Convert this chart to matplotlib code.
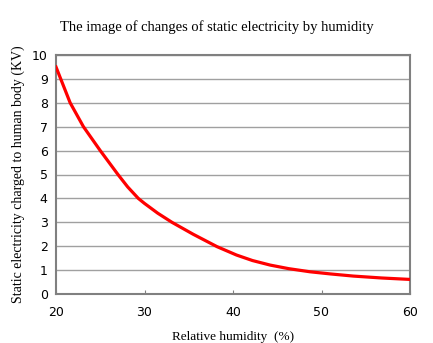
import matplotlib
matplotlib.use("Agg")
import matplotlib.pyplot as plt

# values
humidity = [20, 21.6, 23.1, 25.0, 27.0, 28.1, 29.3, 30.0, 31.5, 33.1, 35.5,
            38.2, 40.4, 42.2, 44.2, 46.3, 48.7, 51.0, 53.6, 56.8, 60]
voltage = [9.5, 8.0, 7.0, 6.0, 5.0, 4.48, 4.0, 3.79, 3.38, 3.0, 2.5,
           1.98, 1.63, 1.4, 1.21, 1.06, 0.93, 0.84, 0.75, 0.67, 0.61]
x_ticks = [20, 30, 40, 50, 60]
y_ticks = list(range(0, 11))

fig = plt.figure(figsize=(4.33, 3.43), dpi=100)
ax = fig.add_axes([56 / 433, 1 - 294 / 343, (410 - 56) / 433, (294 - 55) / 343])

ax.plot(humidity, voltage, color="#ff0000", lw=2.3, solid_joinstyle="round", zorder=3)

ax.set_xlim(20, 60)
ax.set_ylim(0, 10)
ax.set_xticks(x_ticks)
ax.set_yticks(y_ticks)
ax.yaxis.grid(True, color="#a0a0a0", lw=1)
ax.set_axisbelow(True)
for s in ax.spines.values():
    s.set_color("#808080")
    s.set_linewidth(1.5)

ax.tick_params(axis="x", direction="in", length=3, color="#808080", labelsize=9, pad=9)
ax.tick_params(axis="y", length=0, labelsize=9, pad=6)

serif = ["Liberation Serif", "DejaVu Serif"]
fig.text(217 / 433, 1 - 27 / 343, "The image of changes of static electricity by humidity",
         ha="center", va="center", family=serif, fontsize=10.5)
ax.set_xlabel("Relative humidity  (%)", family=serif, fontsize=9.5, labelpad=8)
ax.set_ylabel("Static electricity charged to human body (KV)", family=serif, fontsize=10, labelpad=5)

fig.savefig("out.png", dpi=100)
